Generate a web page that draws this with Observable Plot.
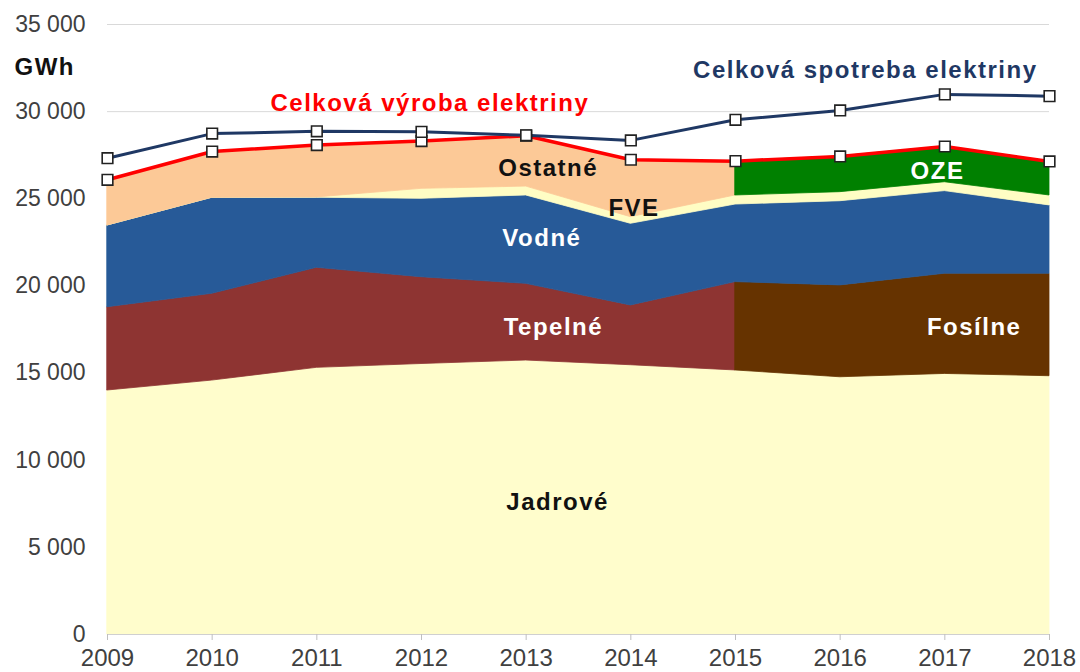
<!DOCTYPE html>
<html><head><meta charset="utf-8">
<script src="https://cdn.jsdelivr.net/npm/d3@7"></script>
<script src="https://cdn.jsdelivr.net/npm/@observablehq/plot@0.6"></script>
<style>
html,body{margin:0;padding:0;background:#fff;}
#chart svg{display:block;}
g[aria-label="text"] text{letter-spacing:1.5px;}
</style></head><body><div id="chart"></div>
<script>
// ---- data (GWh) ----
const years    = [2009, 2010, 2011, 2012, 2013, 2014, 2015, 2016, 2017, 2018];
const jadrove  = [14000, 14570, 15300, 15520, 15720, 15450, 15150, 14760, 14950, 14820];
const tepelne  = [4780, 4980, 5740, 4980, 4400, 3430, 5070, null, null, null];
const fosilne  = [null, null, null, null, null, null, 5070, 5270, 5750, 5880];
const vodne    = [4690, 5510, 4020, 4500, 5070, 4685, 4450, 4830, 4740, 3920];
const fve      = [0, 0, 20, 570, 510, 380, 520, 520, 510, 570];
const ostatne  = [2620, 2650, 3000, 2720, 2920, 3295, 1970, null, null, null];
const oze      = [null, null, null, null, null, null, 1970, 2050, 2050, 1950];
const vyroba   = [26090, 27710, 28080, 28310, 28620, 27240, 27160, 27430, 28000, 27140];
const spotreba = [27330, 28740, 28870, 28840, 28640, 28350, 29530, 30070, 30990, 30890];
const yTicks   = [0, 5000, 10000, 15000, 20000, 25000, 30000, 35000];

// ---- build stacked bands ----
const layers = [
  {name: "Jadrové", values: [jadrove], color: "#FFFDCC"},
  {name: "Tepelné", values: [tepelne, fosilne], color: "#8E3432"},
  {name: "Vodné",   values: [vodne], color: "#275A98"},
  {name: "FVE",     values: [fve], color: "#FFFDC4"},
  {name: "Ostatné", values: [ostatne, oze], color: "#FCC997"}
];
const bandColors = {"Tepelné#1": "#663300", "Ostatné#1": "#008000"};
const bands = [];
const base = years.map(() => 0);
for (const layer of layers) {
  const tops = years.map((_, i) => {
    const v = layer.values.map(a => a[i]).find(v => v != null);
    return base[i] + (v ?? 0);
  });
  layer.values.forEach((arr, k) => {
    const rows = [];
    years.forEach((yr, i) => { if (arr[i] != null) rows.push({year: yr, y1: base[i], y2: tops[i]}); });
    const color = k === 0 ? layer.color : bandColors[layer.name + "#" + k];
    bands.push({rows, color});
  });
  tops.forEach((t, i) => base[i] = t);
}
const lineRows = years.map((yr, i) => ({year: yr, vyroba: vyroba[i], spotreba: spotreba[i]}));

// ---- annotations (data coordinates) ----
const annotations = [
  {text: "Celková spotreba elektriny", x: 2016.24, y: 32360, fill: "#1F3864"},
  {text: "Celková výroba elektriny",   x: 2012.08, y: 30470, fill: "#FF0000"},
  {text: "Ostatné", x: 2013.21, y: 26740, fill: "#111"},
  {text: "FVE",     x: 2014.03, y: 24440, fill: "#111"},
  {text: "Vodné",   x: 2013.15, y: 22720, fill: "#fff"},
  {text: "Tepelné", x: 2013.26, y: 17620, fill: "#fff"},
  {text: "Jadrové", x: 2013.30, y: 7570,  fill: "#111"},
  {text: "OZE",     x: 2016.93, y: 26570, fill: "#fff"},
  {text: "Fosílne", x: 2017.28, y: 17620, fill: "#fff"},
  {text: "GWh",     x: 2008.40, y: 32530, fill: "#111"}
];

const fmt = d => d3.format(",")(d).replace(/,/g, " ");

const chart = Plot.plot({
  width: 1080, height: 672,
  marginLeft: 107, marginRight: 31, marginTop: 24, marginBottom: 38,
  x: {domain: [2009, 2018]},
  y: {domain: [0, 35000]},
  style: {fontFamily: "'Liberation Sans', Arial, sans-serif", fontSize: "23px", background: "#fff"},
  marks: [
    Plot.gridY(yTicks, {stroke: "#d9d9d9", strokeOpacity: 1}),
    ...bands.map(b => Plot.areaY(b.rows, {x: "year", y1: "y1", y2: "y2", fill: b.color, stroke: b.color, strokeWidth: 0.8})),
    Plot.ruleY([0], {stroke: "#d0d0d0"}),
    Plot.line(lineRows, {x: "year", y: "vyroba", stroke: "#FF0000", strokeWidth: 3.5}),
    Plot.line(lineRows, {x: "year", y: "spotreba", stroke: "#1F3864", strokeWidth: 3}),
    Plot.dot(lineRows, {x: "year", y: "vyroba", symbol: "square", r: 6, fill: "#fff", stroke: "#222", strokeWidth: 1.6}),
    Plot.dot(lineRows, {x: "year", y: "spotreba", symbol: "square", r: 6, fill: "#fff", stroke: "#222", strokeWidth: 1.6}),
    Plot.axisY(yTicks, {tickSize: 0, tickPadding: 22, tickFormat: fmt, fontSize: 23, fill: "#404040"}),
    Plot.axisX(years, {tickSize: 6, tickPadding: 8, tickFormat: d => String(d), fontSize: 24, stroke: "#bfbfbf", fill: "#404040"}),
    ...annotations.map(a => Plot.text([a], {x: "x", y: "y", text: "text", fill: a.fill, fontSize: 24, fontWeight: "bold", clip: false}))
  ]
});
document.getElementById("chart").appendChild(chart);
</script>
</body></html>
